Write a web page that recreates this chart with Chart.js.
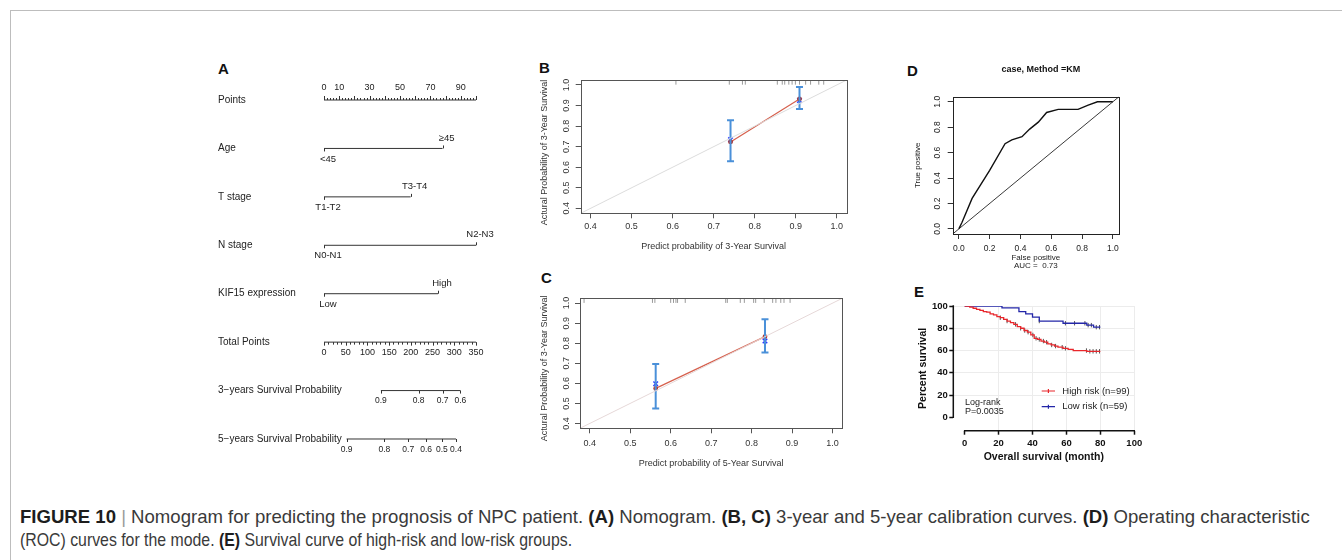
<!DOCTYPE html>
<html>
<head>
<meta charset="utf-8">
<title>Figure 10</title>
<script src="https://cdn.jsdelivr.net/npm/chart.js@4.4.1/dist/chart.umd.min.js"></script>
<style>
  html, body { margin: 0; padding: 0; background: #fff; }
  body { width: 1342px; height: 560px; position: relative; overflow: hidden;
         font-family: "Liberation Sans", Arial, Helvetica, sans-serif; }
  .frame { position: absolute; left: 10px; top: 10px; width: 1340px; height: 560px;
           border-top: 1px solid #bdbdbd; border-left: 1px solid #bdbdbd; }
  canvas { position: absolute; }
  .tag { position: absolute; font-weight: bold; font-size: 15px; line-height: 15px; color: #111; }
  .cap { position: absolute; left: 20px; font-size: 19px; line-height: 23px; color: #3a3a3a;
         white-space: nowrap; transform-origin: 0 50%;
         font-family: "Liberation Sans Narrow", "Liberation Sans", Arial, sans-serif; }
  .cap b { color: #1d1d1d; }
  .cap .bar { color: #9a9a9a; }
</style>
</head>
<body>
<div class="frame"></div>

<div class="tag" style="left:218px;top:61px">A</div>
<div class="tag" style="left:539px;top:60px">B</div>
<div class="tag" style="left:541px;top:270px">C</div>
<div class="tag" style="left:907px;top:63px">D</div>
<div class="tag" style="left:914px;top:284px">E</div>

<canvas id="cA" width="330" height="415" style="left:170px;top:55px"></canvas>
<canvas id="cB" width="330" height="210" style="left:530px;top:50px"></canvas>
<canvas id="cC" width="330" height="210" style="left:530px;top:265px"></canvas>
<canvas id="cD" width="240" height="225" style="left:895px;top:55px"></canvas>
<canvas id="cE" width="250" height="185" style="left:895px;top:280px"></canvas>

<div class="cap" id="cap1" style="top:505px"><b>FIGURE 10</b> <span class="bar">|</span> Nomogram for predicting the prognosis of NPC patient. <b>(A)</b> Nomogram. <b>(B, C)</b> 3-year and 5-year calibration curves. <b>(D)</b> Operating characteristic</div>
<div class="cap" id="cap2" style="top:528px">(ROC) curves for the mode. <b>(E)</b> Survival curve of high-risk and low-risk groups.</div>

<script>
// ---------- data: nomogram (A) ----------
const nomoRows = ['Points', 'Age', 'T stage', 'N stage', 'KIF15 expression', 'Total Points',
                  '3\u2212years Survival Probability', '5\u2212years Survival Probability'];
const pointsMax = 100;
const pointsLabels = [0, 10, 30, 50, 70, 90];
const ageLevels = ['<45', '\u226545'];
const agePoints = [0, 78];
const tLevels = ['T1-T2', 'T3-T4'];
const tPoints = [0, 57];
const nLevels = ['N0-N1', 'N2-N3'];
const nPoints = [0, 100];
const kifLevels = ['Low', 'High'];
const kifPoints = [0, 75];
const totalMax = 350;
const totalLabels = [0, 50, 100, 150, 200, 250, 300, 350];
const surv3Labels = ['0.9', '0.8', '0.7', '0.6'];
const surv3Total = [131, 218, 273, 314];
const surv5Labels = ['0.9', '0.8', '0.7', '0.6', '0.5', '0.4'];
const surv5Total = [52, 139, 194, 235, 271.5, 304];

// ---------- data: calibration (B, C) ----------
const calMin = 0.376, calMax = 1.024;
const diagLine = [0.3, 1.1];
const rugLevel = 1.012;
const predB = [0.741, 0.909];
const obsB = [0.723, 0.932];
const kmB = [0.734, 0.924];
const loB = [0.629, 0.883];
const hiB = [0.828, 0.990];
const rugB = [0.608, 0.738, 0.770, 0.777, 0.855, 0.867, 0.873, 0.883, 0.891, 0.899, 0.909, 0.924, 0.936, 0.956, 0.968];
const predC = [0.563, 0.833];
const obsC = [0.575, 0.833];
const kmC = [0.598, 0.811];
const loC = [0.475, 0.754];
const hiC = [0.697, 0.920];
const rugC = [0.386, 0.555, 0.561, 0.600, 0.607, 0.613, 0.617, 0.636, 0.736, 0.740, 0.772, 0.782, 0.805, 0.810, 0.831, 0.852, 0.860, 0.872, 0.880, 0.895];

// ---------- data: ROC (D) ----------
const rocFpr = [0, 0.02, 0.086, 0.2, 0.30, 0.344, 0.41, 0.46, 0.516, 0.57, 0.645, 0.774, 0.84, 0.90, 1.0];
const rocTpr = [0, 0.05, 0.24, 0.46, 0.67, 0.70, 0.725, 0.785, 0.84, 0.916, 0.94, 0.94, 0.974, 1.0, 1.0];
const rocDiag = [-0.04, 1.04];

// ---------- data: Kaplan-Meier (E) ----------
const highT = [0, 3, 5, 7, 9, 11, 13, 15, 17, 19, 21, 23, 25, 27, 29, 31, 33, 35, 37, 39, 41, 43, 45, 47, 49, 51, 53, 55, 58, 61, 64, 72, 80];
const highS = [100, 99, 98, 97, 96, 95, 94.5, 93, 92, 90.5, 89.5, 88, 86.5, 85, 83.5, 81.5, 80, 78, 76.5, 74, 71, 70, 68.5, 67.5, 66, 65, 64, 63, 62, 61, 60, 59.3, 59.3];
const highCens = [21, 25, 30, 33, 35.4, 37.4, 40.2, 42.1, 44, 46.4, 48.3, 51.3, 53.6, 57.5, 59.4, 71.8, 73.8, 75.7, 77.6, 79.5];
const lowT = [0, 22, 32, 36, 40, 44, 58, 72, 76, 80];
const lowS = [100, 98.3, 95, 93, 90, 86.5, 84.5, 82.8, 81, 81];
const lowCens = [44, 59.4, 64.8, 70.9, 72.8, 74.7, 77.6, 79.5];

// ---------- common ----------
const FONT = '"Liberation Sans", Arial, Helvetica, sans-serif';
Chart.defaults.font.family = FONT;
Chart.defaults.color = '#222';
Chart.defaults.animation = false;
Chart.defaults.responsive = false;
Chart.defaults.devicePixelRatio = 1;
Chart.defaults.plugins.legend.display = false;
Chart.defaults.plugins.tooltip.enabled = false;

// box round the plot region (R style) plus optional free texts
const boxPlugin = {
  id: 'box',
  afterDraw(chart, args, opts) {
    const a = chart.chartArea, ctx = chart.ctx;
    ctx.save();
    ctx.strokeStyle = opts.color || '#444';
    ctx.lineWidth = 1;
    ctx.strokeRect(Math.round(a.left) + 0.5, Math.round(a.top) + 0.5,
                   Math.round(a.right - a.left), Math.round(a.bottom - a.top));
    ctx.textAlign = 'center';
    ctx.textBaseline = 'middle';
    if (opts.title) {
      ctx.font = 'bold 9px ' + FONT;
      ctx.fillStyle = '#111';
      ctx.fillText(opts.title, (a.left + a.right) / 2 + 5, opts.titleY);
    }
    if (opts.yTitle) {
      ctx.font = '9px ' + FONT;
      ctx.fillStyle = '#333';
      ctx.translate(opts.yTitleX, opts.yTitleY);
      ctx.rotate(-Math.PI / 2);
      ctx.fillText(opts.yTitle, 0, 0);
    }
    ctx.restore();
  }
};

// ---------- A: nomogram ----------
const nomoPlugin = {
  id: 'nomo',
  afterDatasetsDraw(chart) {
    const { ctx, scales: { x, y } } = chart;
    const px = v => x.getPixelForValue(v);
    const py = r => y.getPixelForValue(r);
    const tot = t => t * pointsMax / totalMax;
    const tick = (v, r, len) => {
      const X = Math.round(px(v)) + 0.5;
      ctx.beginPath(); ctx.moveTo(X, py(r)); ctx.lineTo(X, py(r) + len); ctx.stroke();
    };
    const text = (s, v, r, dy, size, dx) => {
      ctx.font = size + 'px ' + FONT;
      ctx.fillText(s, px(v) + (dx || 0), py(r) + dy);
    };
    ctx.save();
    ctx.strokeStyle = '#333';
    ctx.lineWidth = 1;
    ctx.fillStyle = '#222';
    ctx.textBaseline = 'middle';

    ctx.textAlign = 'left';
    ctx.font = '10px ' + FONT;
    nomoRows.forEach((n, i) => ctx.fillText(n, x.left - 106, py(i)));

    ctx.textAlign = 'center';
    // Points scale
    for (let v = 0; v <= pointsMax; v += 2) tick(v, 0, v % 10 === 0 ? -4 : -2);
    pointsLabels.forEach(v => text(String(v), v, 0, -12, 9));

    // categorical predictors
    [[1, ageLevels, agePoints], [2, tLevels, tPoints], [3, nLevels, nPoints], [4, kifLevels, kifPoints]]
      .forEach(([r, lv, pts]) => {
        tick(pts[0], r, 3);
        tick(pts[1], r, -3);
        text(lv[0], pts[0], r, 10.5, 9.5, 4);
        text(lv[1], pts[1], r, -10.5, 9.5, 4);
      });

    // Total points
    for (let t = 0; t <= totalMax; t += 10) tick(tot(t), 5, t % 50 === 0 ? 3.5 : 2.5);
    totalLabels.forEach(t => text(String(t), tot(t), 5, 10.5, 9));

    // survival probability scales
    surv3Total.forEach((t, i) => { tick(tot(t), 6, 3); text(surv3Labels[i], tot(t), 6, 10.5, 8.5); });
    surv5Total.forEach((t, i) => { tick(tot(t), 7, 3); text(surv5Labels[i], tot(t), 7, 11, 8.5); });
    ctx.restore();
  }
};

const segRows = [
  [0, 0, pointsMax],
  [1, agePoints[0], agePoints[1]],
  [2, tPoints[0], tPoints[1]],
  [3, nPoints[0], nPoints[1]],
  [4, kifPoints[0], kifPoints[1]],
  [5, 0, pointsMax],
  [6, surv3Total[0] * pointsMax / totalMax, surv3Total[surv3Total.length - 1] * pointsMax / totalMax],
  [7, surv5Total[0] * pointsMax / totalMax, surv5Total[surv5Total.length - 1] * pointsMax / totalMax]
];

new Chart(document.getElementById('cA'), {
  type: 'scatter',
  data: {
    datasets: segRows.map(([r, a, b]) => ({
      data: [{ x: a, y: r }, { x: b, y: r }],
      showLine: true, borderColor: '#333', borderWidth: 1, pointRadius: 0
    }))
  },
  options: {
    layout: { padding: { left: 154, right: 24, top: 20.8, bottom: 6.8 } },
    scales: {
      x: { type: 'linear', min: 0, max: pointsMax, display: false },
      y: { type: 'linear', min: -0.5, max: 7.5, reverse: true, display: false }
    }
  },
  plugins: [nomoPlugin]
});

// ---------- B, C: calibration ----------
function makeCalib(id, d) {
  const blue = '#4a90d9';
  const datasets = [
    { data: diagLine.map(v => ({ x: v, y: v })), showLine: true, borderColor: d.diagColor, borderWidth: 1, pointRadius: 0 },
    { data: d.rug.map(v => ({ x: v, y: rugLevel })), pointStyle: 'line', rotation: 90, pointRadius: 2.2,
      borderColor: '#9a9a9a', borderWidth: 1 }
  ];
  d.pred.forEach((p, i) => datasets.push({
    data: [{ x: p, y: d.lo[i] }, { x: p, y: d.hi[i] }],
    showLine: true, borderColor: blue, borderWidth: 2,
    pointStyle: 'line', pointRadius: 3.5, pointBorderWidth: 2, pointBorderColor: blue
  }));
  datasets.push({
    data: d.pred.map((p, i) => ({ x: p, y: d.obs[i] })),
    showLine: true, borderColor: '#d6604d', borderWidth: 1.2,
    pointRadius: 1.8, pointBackgroundColor: '#b03a2e', pointBorderColor: '#b03a2e'
  });
  datasets.push({
    data: d.pred.map((p, i) => ({ x: p, y: d.km[i] })),
    pointStyle: 'crossRot', pointRadius: 3.2, borderColor: '#2b3cff', borderWidth: 1.5
  });
  return new Chart(document.getElementById(id), {
    type: 'scatter',
    data: { datasets },
    options: {
      layout: { padding: d.pad },
      scales: {
        x: {
          type: 'linear', min: calMin, max: calMax,
          afterFit: s => { s.height = d.xh; },
          border: { display: false },
          grid: { drawOnChartArea: false, tickLength: 5, color: '#555' },
          ticks: { stepSize: 0.1, includeBounds: false, padding: d.xpad, maxRotation: 0, autoSkip: false,
                   font: { size: 9 }, color: '#333', callback: v => v.toFixed(1) },
          title: { display: true, text: d.xTitle, font: { size: 9 }, color: '#333',
                   padding: { top: 0, bottom: d.xtb } }
        },
        y: {
          type: 'linear', min: calMin, max: calMax,
          afterFit: s => { s.width = d.yw; },
          border: { display: false },
          grid: { drawOnChartArea: false, tickLength: 5, color: '#555' },
          ticks: { stepSize: 0.1, includeBounds: false, padding: d.ypad, minRotation: 90, maxRotation: 90,
                   crossAlign: 'center', autoSkip: false, font: { size: 9 }, color: '#333',
                   callback: v => v.toFixed(1) }
        }
      },
      plugins: { box: { color: '#555', yTitle: d.yTitle, yTitleX: 15, yTitleY: d.yty } }
    },
    plugins: [boxPlugin]
  });
}

makeCalib('cB', {
  pred: predB, obs: obsB, km: kmB, lo: loB, hi: hiB, rug: rugB, diagColor: '#dcdcdc',
  pad: { left: 0, right: 13.3, top: 30, bottom: 0 }, xh: 46.7, yw: 50.7,
  xpad: 3, ypad: 2.7, xtb: 7.9, yty: 102.5,
  xTitle: 'Predict probability of 3-Year Survival', yTitle: 'Actural Probability of 3-Year Survival'
});
makeCalib('cC', {
  pred: predC, obs: obsC, km: kmC, lo: loC, hi: hiC, rug: rugC, diagColor: '#e6d8d8',
  pad: { left: 0, right: 17.7, top: 33.3, bottom: 0 }, xh: 46.7, yw: 50,
  xpad: 4.6, ypad: 2, xtb: 6.3, yty: 103.3,
  xTitle: 'Predict probability of 5-Year Survival', yTitle: 'Actural Probability of 3-Year Survival'
});

// ---------- D: ROC ----------
new Chart(document.getElementById('cD'), {
  type: 'scatter',
  data: {
    datasets: [
      { data: rocDiag.map(v => ({ x: v, y: v })), showLine: true, borderColor: '#222', borderWidth: 0.9, pointRadius: 0 },
      { data: rocFpr.map((f, i) => ({ x: f, y: rocTpr[i] })), showLine: true, borderColor: '#111', borderWidth: 1.4, pointRadius: 0 }
    ]
  },
  options: {
    layout: { padding: { left: 0, right: 16, top: 41.7, bottom: 0 } },
    scales: {
      x: {
        type: 'linear', min: -0.04, max: 1.04,
        afterFit: s => { s.height = 46; },
        border: { display: false },
        grid: { drawOnChartArea: false, tickLength: 5, color: '#333' },
        ticks: { stepSize: 0.2, includeBounds: false, padding: 4.2, maxRotation: 0, autoSkip: false,
                 font: { size: 8.5 }, color: '#222', callback: v => v.toFixed(1) },
        title: { display: true, text: ['False positive', 'AUC =  0.73'], font: { size: 8, lineHeight: 1.05 },
                 color: '#222', padding: { top: 0, bottom: 10.1 } }
      },
      y: {
        type: 'linear', min: -0.04, max: 1.04,
        afterFit: s => { s.width = 57.7; },
        border: { display: false },
        grid: { drawOnChartArea: false, tickLength: 5, color: '#333' },
        ticks: { stepSize: 0.2, includeBounds: false, padding: 4.1, minRotation: 90, maxRotation: 90,
                 crossAlign: 'center', autoSkip: false, font: { size: 8.5 }, color: '#222',
                 callback: v => v.toFixed(1) },
        title: { display: true, text: 'True positive', font: { size: 8 }, color: '#222',
                 padding: { top: 17.9, bottom: 0 } }
      }
    },
    plugins: { box: { color: '#222', title: 'case, Method =KM', titleY: 15 } }
  },
  plugins: [boxPlugin]
});

// ---------- E: survival ----------
const xMinE = -6.7, xMaxE = 100, yMinE = -12, yMaxE = 100;
const redE = '#e8262b', blueE = '#2326a8';

function survAt(ts, ss, t) {
  let s = ss[0];
  for (let i = 0; i < ts.length; i++) if (ts[i] <= t) s = ss[i];
  return s;
}

const prismPlugin = {
  id: 'prism',
  afterDraw(chart) {
    const { ctx, chartArea: a, scales: { x, y } } = chart;
    ctx.save();
    ctx.strokeStyle = '#111';
    ctx.lineWidth = 1.5;
    ctx.beginPath();
    ctx.moveTo(a.left, y.getPixelForValue(0) + 0.75);
    ctx.lineTo(a.left, y.getPixelForValue(yMaxE) - 0.75);
    ctx.moveTo(x.getPixelForValue(0) - 0.75, a.bottom);
    ctx.lineTo(x.getPixelForValue(xMaxE) + 0.75, a.bottom);
    ctx.stroke();

    // legend
    ctx.font = '9.5px ' + FONT;
    ctx.textAlign = 'left';
    ctx.textBaseline = 'middle';
    chart.data.datasets.filter(ds => ds.legendText).forEach((ds, i) => {
      const ly = 111 + i * 15.7;
      ctx.strokeStyle = ds.borderColor;
      ctx.lineWidth = 1.2;
      ctx.beginPath();
      ctx.moveTo(146.7, ly); ctx.lineTo(160, ly);
      ctx.moveTo(153.4, ly - 2); ctx.lineTo(153.4, ly + 2);
      ctx.stroke();
      ctx.fillStyle = '#222';
      ctx.fillText(ds.legendText, 167.3, ly);
    });

    ctx.font = '9px ' + FONT;
    ctx.fillStyle = '#222';
    ctx.fillText('Log-rank', 70, 122.7);
    ctx.fillText('P=0.0035', 70, 131.7);
    ctx.restore();
  }
};

const gridColor = c => (c.tick && c.tick.value === 0) ? 'rgba(0,0,0,0)' : '#ececec';

new Chart(document.getElementById('cE'), {
  type: 'scatter',
  data: {
    datasets: [
      { data: highT.map((t, i) => ({ x: t, y: highS[i] })), showLine: true, stepped: true,
        borderColor: redE, borderWidth: 1.3, pointRadius: 0, legendText: 'High risk (n=99)' },
      { data: lowT.map((t, i) => ({ x: t, y: lowS[i] })), showLine: true, stepped: true,
        borderColor: blueE, borderWidth: 1.3, pointRadius: 0, legendText: 'Low risk (n=59)' },
      { data: highCens.map(t => ({ x: t, y: survAt(highT, highS, t) })), pointStyle: 'line', rotation: 90,
        pointRadius: 2.2, borderColor: '#555', borderWidth: 1 },
      { data: lowCens.map(t => ({ x: t, y: survAt(lowT, lowS, t) })), pointStyle: 'line', rotation: 90,
        pointRadius: 2.2, borderColor: '#555', borderWidth: 1 }
    ]
  },
  options: {
    layout: { padding: { left: 0, right: 6, top: 26, bottom: 0 } },
    scales: {
      x: {
        type: 'linear', min: xMinE, max: xMaxE,
        afterFit: s => { s.height = 34.3; },
        border: { display: false },
        grid: { color: gridColor, lineWidth: 1, tickLength: 4, tickColor: '#111', tickWidth: 1.5 },
        ticks: { stepSize: 20, includeBounds: false, padding: 2.8, maxRotation: 0, autoSkip: false,
                 font: { size: 9.5, weight: 'bold' }, color: '#111' },
        title: { display: true, text: 'Overall survival (month)', font: { size: 10.5, weight: 'bold' },
                 color: '#111', padding: { top: 0, bottom: 2 } }
      },
      y: {
        type: 'linear', min: yMinE, max: yMaxE,
        afterFit: s => { s.width = 58.3; },
        border: { display: false },
        grid: { color: gridColor, lineWidth: 1, tickLength: 4, tickColor: '#111', tickWidth: 1.5 },
        ticks: { stepSize: 20, includeBounds: false, padding: 1.5, autoSkip: false,
                 font: { size: 9.5, weight: 'bold' }, color: '#111' },
        title: { display: true, text: 'Percent survival', font: { size: 10.5, weight: 'bold' },
                 color: '#111', padding: { top: 22, bottom: 0 } }
      }
    }
  },
  plugins: [prismPlugin]
});

// ---------- caption fit (condensed face in the original) ----------
const cap1 = document.getElementById('cap1');
const cap2 = document.getElementById('cap2');
cap1.style.transform = 'scaleX(' + (1290 / cap1.offsetWidth) + ')';
cap2.style.transform = 'scaleX(' + (552 / cap2.offsetWidth) + ')';
</script>
</body>
</html>
